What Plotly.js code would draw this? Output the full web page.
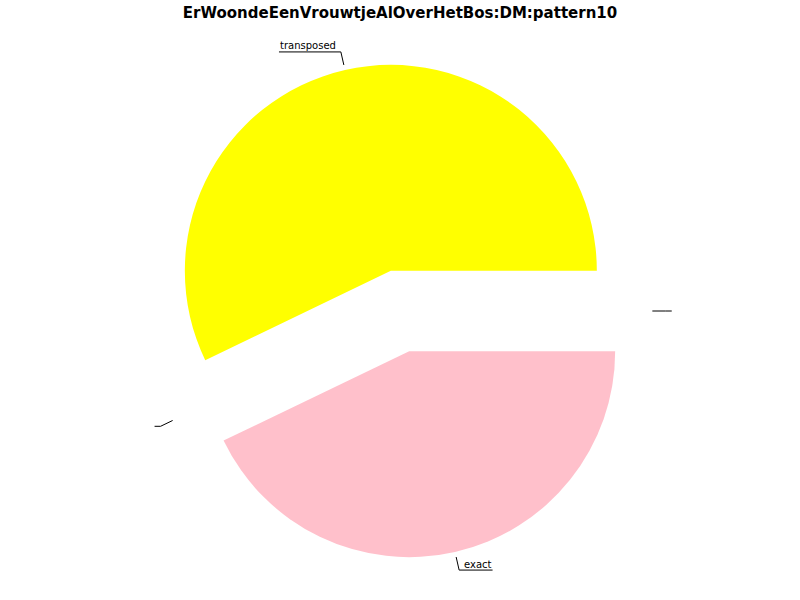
<!DOCTYPE html>
<html>
<head>
<meta charset="utf-8">
<script src="https://cdn.plot.ly/plotly-3.0.1.min.js"></script>
<style>html,body{margin:0;padding:0;background:#fff;}#chart{width:800px;height:600px;}</style>
</head>
<body>
<div id="chart"></div>
<script>
// ---- data ----
const sliceLabels = ['', 'transposed', '', 'exact'];
const sliceValues = [0, 4, 0, 3];
const sliceColors = ['#1f77b4', '#ffff00', '#2ca02c', '#ffc0cb'];
const sliceIds = ['s0', 's1', 's2', 's3'];
const pullFrac = 0.2;
const chartTitle = 'ErWoondeEenVrouwtjeAlOverHetBos:DM:pattern10';

// ---- layout geometry (pixels) ----
const W = 800, H = 600;
const cx = 400, cy = 311, R = 206;
const box = 2 * R * (1 + pullFrac);
const px2x = p => p / W;
const py2y = p => 1 - p / H;

const ctx = document.createElement('canvas').getContext('2d');
ctx.font = '10px "DejaVu Sans"';

const total = sliceValues.reduce((a, b) => a + b, 0);
let cum = 0;
const shapes = [], annotations = [];
sliceValues.forEach((v, i) => {
  const a0 = cum / total * 360;
  cum += v;
  const a1 = cum / total * 360;
  const mid = (a0 + a1) / 2 * Math.PI / 180;
  const ux = Math.cos(mid), uy = -Math.sin(mid);
  const p1 = [cx + 1.225 * R * ux, cy + 1.225 * R * uy];
  const p2 = [cx + 1.29 * R * ux, cy + 1.29 * R * uy];
  const side = ux >= 0 ? 1 : -1;
  const tw = ctx.measureText(sliceLabels[i]).width;
  const p3 = [p2[0] + side * (tw + 6), p2[1]];
  const line = {type: 'line', xref: 'paper', yref: 'paper', line: {color: '#000', width: 1}};
  shapes.push(Object.assign({}, line, {x0: px2x(p1[0]), y0: py2y(p1[1]), x1: px2x(p2[0]), y1: py2y(p2[1])}));
  shapes.push(Object.assign({}, line, {x0: px2x(p2[0]), y0: py2y(p2[1]), x1: px2x(p3[0]), y1: py2y(p3[1])}));
  if (sliceLabels[i]) {
    annotations.push({
      text: sliceLabels[i], xref: 'paper', yref: 'paper', showarrow: false,
      x: px2x(p3[0]), y: py2y(p3[1]),
      xanchor: side > 0 ? 'right' : 'left', yanchor: 'bottom',
      yshift: -0.5,
      font: {family: 'DejaVu Sans', size: 10, color: '#000'},
      borderpad: 0
    });
  }
});

const trace = {
  type: 'pie',
  labels: sliceIds,
  values: sliceValues,
  sort: false,
  direction: 'counterclockwise',
  rotation: 90,
  pull: sliceValues.map(() => pullFrac),
  marker: {colors: sliceColors, line: {width: 0}},
  textinfo: 'none',
  hoverinfo: 'skip',
  showlegend: false,
  domain: {
    x: [px2x(cx - box / 2), px2x(cx + box / 2)],
    y: [py2y(cy + box / 2), py2y(cy - box / 2)]
  }
};

const layout = {
  width: W, height: H,
  margin: {l: 0, r: 0, t: 0, b: 0},
  paper_bgcolor: '#fff',
  showlegend: false,
  title: {
    text: '<b>' + chartTitle + '</b>',
    x: 0.5, xanchor: 'center', xref: 'paper',
    y: py2y(13), yanchor: 'middle', yref: 'paper',
    font: {family: 'DejaVu Sans', size: 15, color: '#000'}
  },
  shapes: shapes,
  annotations: annotations
};

Plotly.newPlot('chart', [trace], layout, {displayModeBar: false, staticPlot: true});
</script>
</body>
</html>
